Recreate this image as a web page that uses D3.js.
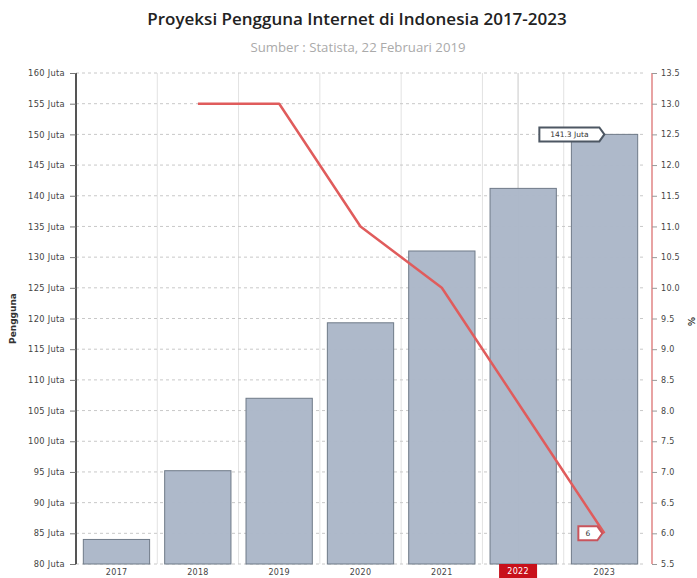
<!DOCTYPE html>
<html>
<head>
<meta charset="utf-8">
<script src="https://cdn.jsdelivr.net/npm/d3@7"></script>
<style>
  body { margin: 0; background: #fff; }
  svg { display: block; }
</style>
</head>
<body>
<svg width="697" height="578"></svg>
<script>
// --- Dados ---
const tahun = ['2017', '2018', '2019', '2020', '2021', '2022', '2023'];
const pengguna = [84.0, 95.2, 107.0, 119.3, 131.0, 141.2, 150.0];   // juta
const pertumbuhan = [null, 13.0, 13.0, 11.0, 10.0, 8.0, 6.0];      // %
const ticksKiri = d3.range(80, 161, 5);
const ticksKanan = d3.range(5.5, 13.51, 0.5);
const tahunAktif = '2022';

const svg = d3.select('svg');
const pLeft = 76, pRight = 645, pTop = 73, pBottom = 564, axisKanan = 652;
const fonteEixo = 'DejaVu Sans, sans-serif';

// --- Escalas ---
const x = d3.scaleBand().domain(tahun).range([pLeft, pRight]).paddingInner(0.185).paddingOuter(0.09);
const xBand = d3.scaleBand().domain(tahun).range([pLeft, pRight]);
const y = d3.scaleLinear().domain([80, 160]).range([pBottom, pTop]);
const y2 = d3.scaleLinear().domain([5.5, 13.5]).range([pBottom, pTop]);

// Título
svg.append('text')
    .attr('x', 357).attr('y', 25)
    .attr('text-anchor', 'middle')
    .attr('font-family', 'Open Sans, sans-serif')
    .attr('font-weight', 600)
    .attr('font-size', 17)
    .attr('fill', '#222')
    .text('Proyeksi Pengguna Internet di Indonesia 2017-2023');

svg.append('text')
    .attr('x', 358).attr('y', 52)
    .attr('text-anchor', 'middle')
    .attr('font-family', 'Open Sans, sans-serif')
    .attr('font-size', 13.2)
    .attr('fill', '#aaa')
    .text('Sumber : Statista, 22 Februari 2019');

// --- Grade ---
svg.append('g')
    .selectAll('line')
    .data(tahun.slice(1))
    .join('line')
        .attr('x1', d => xBand(d)).attr('x2', d => xBand(d))
        .attr('y1', pTop).attr('y2', pBottom)
        .attr('stroke', '#e2e2e2');

svg.append('g')
    .selectAll('line')
    .data(ticksKiri)
    .join('line')
        .attr('x1', pLeft).attr('x2', pRight)
        .attr('y1', d => y(d)).attr('y2', d => y(d))
        .attr('stroke', '#c8c8c8')
        .attr('stroke-dasharray', '3,3');

// crosshair 2022
const xAktif = xBand(tahunAktif) + xBand.bandwidth() / 2 - 5;
svg.append('line')
    .attr('x1', xAktif).attr('x2', xAktif)
    .attr('y1', pTop).attr('y2', pBottom)
    .attr('stroke', '#c9c9c9');

// --- Barras ---
svg.append('g')
    .selectAll('rect')
    .data(tahun.map((t, i) => ({ t, v: pengguna[i] })))
    .join('rect')
        .attr('x', d => x(d.t))
        .attr('y', d => y(d.v))
        .attr('width', x.bandwidth())
        .attr('height', d => pBottom - y(d.v))
        .attr('fill', '#abb7c8')
        .attr('fill-opacity', 0.97)
        .attr('stroke', '#6f7a88')
        .attr('stroke-width', 1);

// --- Eixo esquerdo ---
const eixoY = svg.append('g')
    .attr('transform', `translate(${pLeft},0)`)
    .call(d3.axisLeft(y).tickValues(ticksKiri).tickSize(6).tickPadding(5).tickFormat(d => d + ' Juta'));
eixoY.select('.domain').attr('stroke', '#555').attr('stroke-width', 2).attr('d', `M0,${pTop}V${pBottom}`);
eixoY.selectAll('.tick line').attr('stroke', '#777');
eixoY.selectAll('text').attr('font-family', fonteEixo).attr('font-size', 8.3).attr('letter-spacing', 0.3).attr('fill', '#444');

svg.append('text')
    .attr('transform', `translate(16,${(pTop + pBottom) / 2}) rotate(-90)`)
    .attr('text-anchor', 'middle')
    .attr('font-family', fonteEixo)
    .attr('font-weight', 'bold')
    .attr('font-size', 9)
    .attr('fill', '#333')
    .text('Pengguna');

// --- Eixo direito ---
const eixoY2 = svg.append('g')
    .attr('transform', `translate(${axisKanan},0)`)
    .call(d3.axisRight(y2).tickValues(ticksKanan).tickSize(5).tickPadding(4).tickFormat(d3.format('.1f')));
eixoY2.select('.domain').attr('stroke', '#e8a3a3').attr('stroke-width', 2).attr('d', `M0,${pTop}V${pBottom}`);
eixoY2.selectAll('.tick line').attr('stroke', '#999');
eixoY2.selectAll('text').attr('font-family', fonteEixo).attr('font-size', 8).attr('letter-spacing', 0.3).attr('fill', '#444');

svg.append('text')
    .attr('transform', `translate(688,${(pTop + pBottom) / 2 + 3}) rotate(90)`)
    .attr('text-anchor', 'middle')
    .attr('font-family', fonteEixo)
    .attr('font-weight', 'bold')
    .attr('font-size', 9)
    .attr('fill', '#333')
    .text('%');

// --- Eixo X ---
const eixoX = svg.append('g')
    .attr('transform', `translate(0,${pBottom})`)
    .call(d3.axisBottom(xBand).tickSize(0).tickPadding(5));
eixoX.select('.domain').remove();
eixoX.selectAll('text').attr('font-family', fonteEixo).attr('font-size', 8).attr('letter-spacing', 0.3).attr('fill', '#444');
eixoX.selectAll('.tick').filter(d => d === tahunAktif).remove();

// --- Linha ---
const linhaData = tahun.map((t, i) => ({ t, v: pertumbuhan[i] })).filter(d => d.v !== null);
svg.append('path')
    .datum(linhaData)
    .attr('fill', 'none')
    .attr('stroke', '#e05c5c')
    .attr('stroke-width', 2.5)
    .attr('stroke-linejoin', 'round')
    .attr('d', d3.line().x(d => xBand(d.t) + xBand.bandwidth() / 2).y(d => y2(d.v)));

// --- Rótulos (tooltip) ---
function callout(cx, cy, w, h, texto, cor) {
    const g = svg.append('g');
    const p = 5;
    g.append('path')
        .attr('d', `M${cx},${cy} L${cx - p},${cy - h / 2} H${cx - p - w} V${cy + h / 2} H${cx - p} Z`)
        .attr('fill', '#fff')
        .attr('stroke', cor)
        .attr('stroke-width', 2);
    g.append('text')
        .attr('x', cx - p - w / 2).attr('y', cy + 3)
        .attr('text-anchor', 'middle')
        .attr('font-family', fonteEixo)
        .attr('font-size', 7.5)
        .attr('fill', '#333')
        .text(texto);
}
const cx2023 = xBand('2023') + xBand.bandwidth() / 2;
callout(cx2023, y(pengguna[6]), 60, 14, '141.3 Juta', '#4d5763');
callout(cx2023 - 2, y2(pertumbuhan[6]), 19, 14, '6', '#c9545c');

// destaque 2022 no eixo X
svg.append('rect')
    .attr('x', xAktif - 19).attr('y', pBottom)
    .attr('width', 38).attr('height', 14)
    .attr('fill', '#c8101a');
svg.append('text')
    .attr('x', xAktif).attr('y', pBottom + 10)
    .attr('text-anchor', 'middle')
    .attr('font-family', fonteEixo)
    .attr('font-size', 8)
    .attr('letter-spacing', 0.3)
    .attr('fill', '#fff')
    .text(tahunAktif);
</script>
</body>
</html>
